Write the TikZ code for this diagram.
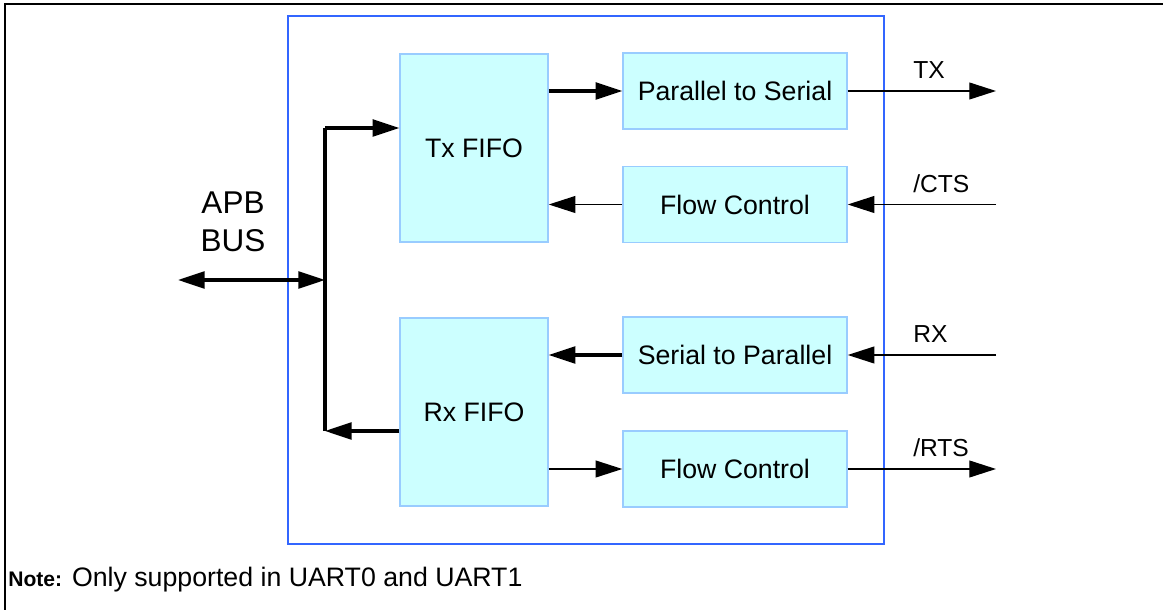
\documentclass[tikz,border=0pt]{standalone}
\usepackage{fontspec}
\setmainfont{Liberation Sans}
\usepackage{xcolor}
\usetikzlibrary{
  arrows.meta,
  positioning
}
\definecolor{boxfill}{RGB}{204,255,255}
\definecolor{boxline}{RGB}{153,204,255}
\definecolor{frameblue}{RGB}{51,102,255}

\begin{document}
\begin{tikzpicture}[
    x=0.25mm,
    y=-0.25mm,
    font=\fontsize{19}{23}\selectfont,
    >={Triangle[length=19pt,width=12pt]},
    fifo/.style={
      draw=boxline,
      fill=boxfill,
      line width=1pt,
      minimum width=37mm,
      minimum height=47mm,
      inner sep=0pt
    },
    conv/.style={
      draw=boxline,
      fill=boxfill,
      line width=1pt,
      minimum width=56mm,
      minimum height=19mm,
      inner sep=0pt
    },
    bus/.style={line width=2.2pt},
    wire/.style={line width=1pt},
    sig/.style={
      anchor=base west,
      inner sep=0pt,
      font=\fontsize{17.5}{21}\selectfont
    }
  ]
  \useasboundingbox (0,0) rectangle (1163,610);

  % ========== Frames ==========
  \draw[line width=1.5pt] (5,610) -- (5,4) -- (1163,4);
  \draw[frameblue,line width=1.1pt] (288,16) rectangle (884,544);

  % ========== Blocks ==========
  \node[fifo] (txfifo) at (474,148) {Tx FIFO};
  \node[fifo] (rxfifo) at (474,412) {Rx FIFO};

  \node[conv] (ptos) at (735,91) {Parallel to Serial};
  \node[conv] (flowtx) at (735,204.5) {Flow Control};
  \node[conv] (stop) at (735,355) {Serial to Parallel};
  \node[conv] (flowrx) at (735,469) {Flow Control};

  % ========== APB bus ==========
  \coordinate (bustop) at (325,128);
  \coordinate (busmid) at (325,280);
  \coordinate (busbot) at (325,431);
  \coordinate (apb) at (178,280);

  \node[align=center,font=\fontsize{22.4}{27}\selectfont] (apblbl) at (233,222)
    {APB\\BUS};

  \draw[bus] (bustop) -- (busbot);
  \draw[bus,<->] (apb) -- (busmid);
  \draw[bus,->] (bustop) -- (txfifo.west |- bustop);
  \draw[bus,->] (rxfifo.west |- busbot) -- (busbot);

  % ========== Internal paths ==========
  \draw[bus,->] (txfifo.east |- ptos) -- (ptos);
  \draw[wire,->] (flowtx) -- (txfifo.east |- flowtx);
  \draw[bus,->] (stop) -- (rxfifo.east |- stop);
  \draw[wire,->] (rxfifo.east |- flowrx) -- (flowrx);

  % ========== Pins ==========
  \coordinate (txout) at (996,91);
  \coordinate (ctsin) at (996,204.5);
  \coordinate (rxin) at (996,355);
  \coordinate (rtsout) at (996,469);

  \draw[wire,->] (ptos) -- (txout);
  \draw[wire,->] (ctsin) -- (flowtx);
  \draw[wire,->] (rxin) -- (stop);
  \draw[wire,->] (flowrx) -- (rtsout);

  \node[sig] (txlbl) at (913,79) {TX};
  \node[sig] (ctslbl) at (913,193) {/CTS};
  \node[sig] (rxlbl) at (913,343) {RX};
  \node[sig] (rtslbl) at (913,457) {/RTS};

  % Note line
  \node[anchor=base west,inner sep=0pt] (note) at (8,587)
    {{\fontsize{15}{18}\selectfont\bfseries Note:} Only supported in UART0 and UART1};
\end{tikzpicture}
\end{document}
